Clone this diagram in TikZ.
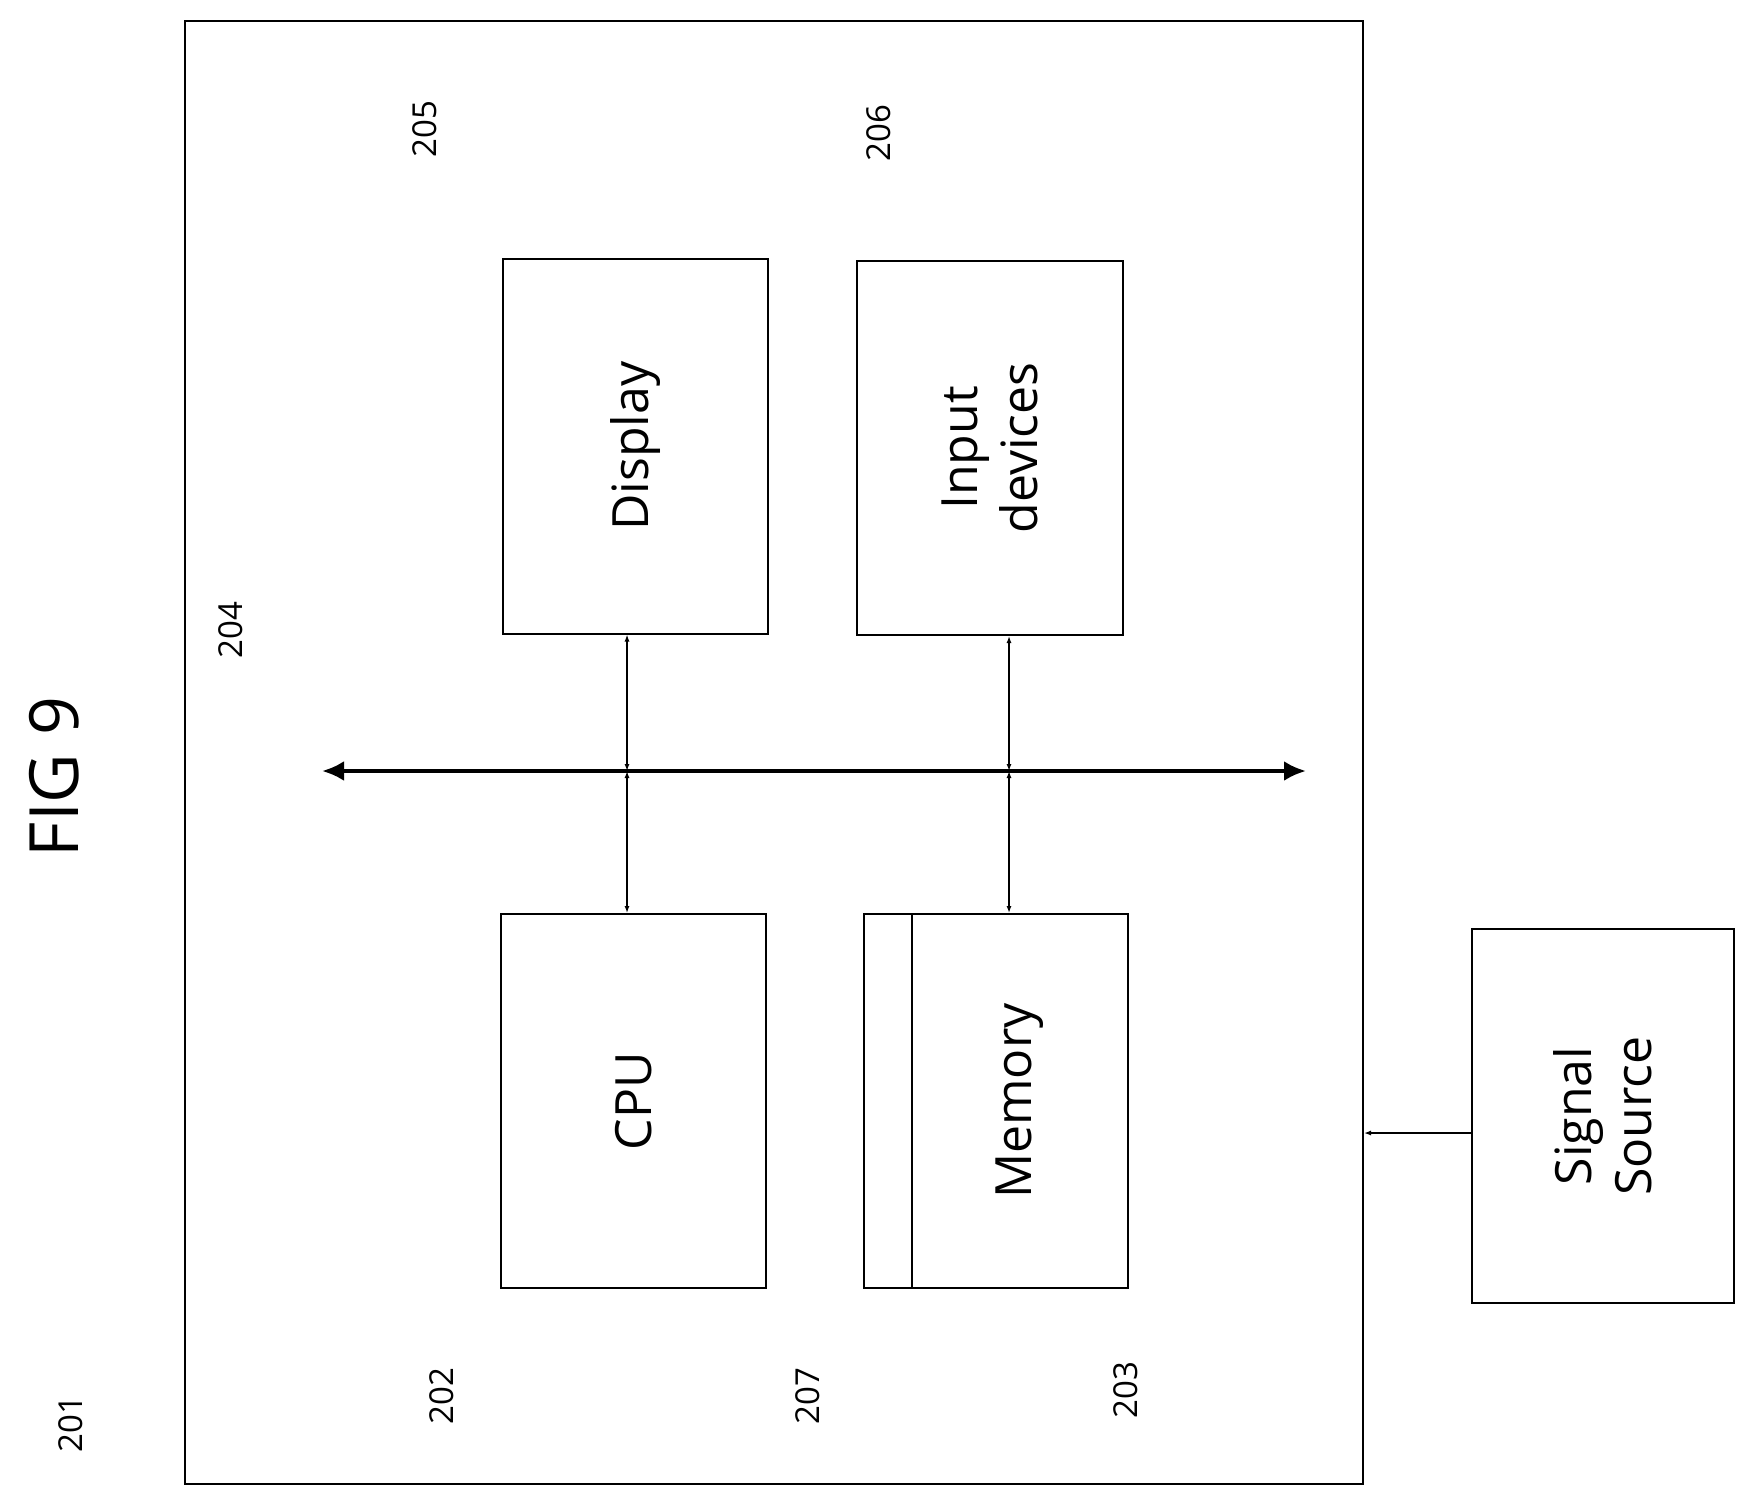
\documentclass[tikz,border=0pt]{standalone}
\usepackage{fontspec}
\setmainfont{Open Sans}
\usetikzlibrary{arrows.meta}
\begin{document}
\begin{tikzpicture}[x=1pt,y=-1pt,
  box/.style={draw,line width=2pt,inner sep=0pt},
  lab/.style={rotate=90,font=\fontsize{50}{60}\selectfont,align=center},
  num/.style={rotate=90,font=\fontsize{33}{40}\selectfont},
  conn/.style={line width=1.3pt,{Latex[length=7pt,width=5pt]}-{Latex[length=7pt,width=5pt]}},
  every node/.style={inner sep=0pt}]
\useasboundingbox (0,0) rectangle (1756,1502);
\node[box,minimum width=1178pt,minimum height=1463pt] (outer) at (774,752) {};
\node[box,minimum width=265pt,minimum height=375pt] (disp) at (635.5,446) {};
\node[lab] at (disp) {Display};
\node[box,minimum width=266pt,minimum height=374pt] (inp) at (990,448) {};
\node[lab] at (inp) {Input\\devices};
\node[box,minimum width=265pt,minimum height=374pt] (cpu) at (633.5,1101) {};
\node[lab] at (cpu) {CPU};
\node[box,minimum width=264pt,minimum height=374pt] (mem) at (996,1101) {};
\node[lab] at ([xshift=24pt]mem.center) {Memory};
\draw[line width=2pt] ([xshift=49pt]mem.north west) -- ([xshift=49pt]mem.south west);
\node[box,minimum width=262pt,minimum height=374pt] (sig) at (1603,1116) {};
\node[lab] at (sig) {Signal\\Source};
\coordinate (bl) at (322,771);
\coordinate (br) at (1306,771);
\draw[line width=4pt,{Latex[length=22pt,width=20pt]}-{Latex[length=22pt,width=20pt]}] (bl) -- (br);
\coordinate (b1) at (627,771);
\coordinate (b2) at (1009,771);
\draw[conn] (b1) -- (disp.south -| b1);
\draw[conn] (b1) -- (cpu.north -| b1);
\draw[conn] (b2) -- (inp.south -| b2);
\draw[conn] (b2) -- (mem.north -| b2);
\draw[line width=1.3pt,-{Latex[length=7pt,width=5pt]}] (sig.west |- 0,1133) -- (outer.east |- 0,1133);
\node[rotate=90,font=\fontsize{68}{80}\selectfont] (fig) at (54,777) {FIG 9};
\node[num] (n205) at (425,129) {205};
\node[num] (n206) at (879,133) {206};
\node[num] (n204) at (231,630) {204};
\node[num] (n202) at (442,1396) {202};
\node[num] (n207) at (808,1396) {207};
\node[num] (n203) at (1126,1390) {203};
\node[num] (n201) at (71,1424) {201};
\end{tikzpicture}
\end{document}
